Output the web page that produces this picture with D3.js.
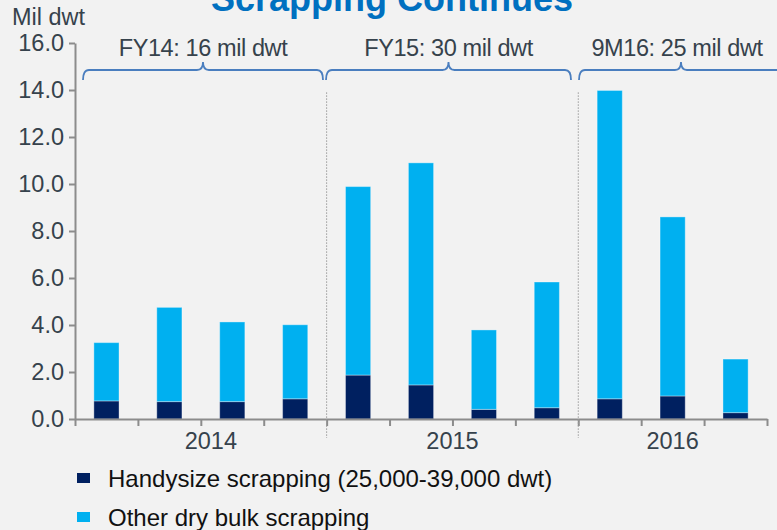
<!DOCTYPE html>
<html>
<head>
<meta charset="utf-8">
<script src="https://cdn.jsdelivr.net/npm/d3@7"></script>
<style>
  body { margin: 0; background: #f2f2f2; }
  svg { display: block; font-family: "Liberation Sans", Arial, sans-serif; }
  .axis path, .axis line { stroke: #8c8c8c; stroke-width: 2; }
  .axis text { fill: #36424c; font-size: 23.5px; font-family: "Liberation Sans", Arial, sans-serif; }
</style>
</head>
<body>
<svg id="chart" width="777" height="530"></svg>
<script>
// quarters, grouped by year
const categories = ["2014Q1","2014Q2","2014Q3","2014Q4","2015Q1","2015Q2","2015Q3","2015Q4","2016Q1","2016Q2","2016Q3"];
const years = ["2014", "2015", "2016"];
const yearOf = ["2014","2014","2014","2014","2015","2015","2015","2015","2016","2016","2016"];
const handysize = [0.77, 0.74, 0.74, 0.86, 1.87, 1.45, 0.41, 0.48, 0.86, 0.98, 0.27];
const otherDry = [2.48, 4.01, 3.39, 3.15, 8.02, 9.45, 3.38, 5.35, 13.12, 7.62, 2.28];
const yTicks = [0, 2, 4, 6, 8, 10, 12, 14, 16];
const periodLabels = ["FY14: 16 mil dwt", "FY15: 30 mil dwt", "9M16: 25 mil dwt"];
const seriesNames = ["Handysize scrapping (25,000-39,000 dwt)", "Other dry bulk scrapping"];
const colors = ["#002060", "#00b0f0"];

const svg = d3.select("#chart");
const margin = {left: 75, right: 10, top: 43, bottom: 111};
const width = 777 - margin.left - margin.right;
const height = 530 - margin.top - margin.bottom;

const x = d3.scaleBand().domain(categories).range([0, width]).paddingInner(0.6).paddingOuter(0.3);
const y = d3.scaleLinear().domain([0, 16]).range([height, 0]);

const g = svg.append("g").attr("transform", `translate(${margin.left},${margin.top})`);

// title (cut off at top, as in the slide)
svg.append("text")
  .attr("x", 392).attr("y", 11)
  .attr("text-anchor", "middle")
  .attr("fill", "#0070c0")
  .attr("font-size", 36).attr("font-weight", "bold")
  .text("Scrapping Continues");

svg.append("text")
  .attr("x", 12).attr("y", 25)
  .attr("fill", "#36424c").attr("font-size", 23.5)
  .text("Mil dwt");

// stacked bars
const stackData = categories.map((c, i) => ({cat: c, handy: handysize[i], other: otherDry[i]}));
const stack = d3.stack().keys(["handy", "other"])(stackData);

g.selectAll(".series")
  .data(stack)
  .enter().append("g")
  .attr("fill", (d, i) => colors[i])
  .selectAll("rect")
  .data(d => d)
  .enter().append("rect")
  .attr("x", d => x(d.data.cat))
  .attr("width", x.bandwidth())
  .attr("y", d => y(d[1]))
  .attr("height", d => y(d[0]) - y(d[1]))
  .attr("stroke", "#ffffff").attr("stroke-opacity", 0.35).attr("stroke-width", 1);

// y axis
g.append("g").attr("class", "axis")
  .call(d3.axisLeft(y).tickValues(yTicks).tickFormat(d3.format(".1f")).tickSize(6).tickSizeOuter(0).tickPadding(5));

// x axis with ticks at category boundaries
const xb = d3.scaleLinear().domain([0, categories.length]).range([0, width]);
g.append("g").attr("class", "axis")
  .attr("transform", `translate(0,${height})`)
  .call(d3.axisBottom(xb).tickValues(d3.range(categories.length + 1)).tickFormat("").tickSize(7).tickSizeOuter(0));

// year group info
const groups = years.map(yr => {
  const idx = yearOf.map((v, i) => v === yr ? i : -1).filter(i => i >= 0);
  return {yr, start: idx[0], end: idx[idx.length - 1] + 1};
});

g.selectAll(".year")
  .data(groups)
  .enter().append("text")
  .attr("x", d => (xb(d.start) + xb(d.end)) / 2 + (d.yr === "2014" ? 10 : 0))
  .attr("y", height + 30)
  .attr("text-anchor", "middle")
  .attr("fill", "#36424c").attr("font-size", 23.5)
  .text(d => d.yr);

// dotted dividers
g.selectAll(".divider")
  .data(groups.slice(1))
  .enter().append("line")
  .attr("x1", d => xb(d.start)).attr("x2", d => xb(d.start))
  .attr("y1", y(13.9)).attr("y2", height + 19)
  .attr("stroke", "#9a9a9a").attr("stroke-width", 1)
  .attr("stroke-dasharray", "1.5,1.5");

// braces
const braceY = 70 - margin.top;
function bracePath(x0, x1) {
  const m = (x0 + x1) / 2, r = 6;
  return `M${x0},${braceY + 10} Q${x0},${braceY} ${x0 + r},${braceY}` +
         ` L${m - r},${braceY} Q${m},${braceY} ${m},${braceY - 8}` +
         ` Q${m},${braceY} ${m + r},${braceY} L${x1 - r},${braceY}` +
         ` Q${x1},${braceY} ${x1},${braceY + 10}`;
}
const braceSpans = [[8, 248], [251, 496], [504, 708]];
g.selectAll(".brace")
  .data(braceSpans)
  .enter().append("path")
  .attr("d", d => bracePath(d[0], d[1]))
  .attr("fill", "none").attr("stroke", "#4a7ebf").attr("stroke-width", 1.8);

g.selectAll(".period")
  .data(periodLabels)
  .enter().append("text")
  .attr("x", (d, i) => (braceSpans[i][0] + braceSpans[i][1]) / 2 - (i === 2 ? 4 : 0))
  .attr("y", 56 - margin.top)
  .attr("text-anchor", "middle")
  .attr("fill", "#36424c").attr("font-size", 23.5)
  .attr("letter-spacing", -0.4)
  .text(d => d);

// legend
const legend = svg.selectAll(".legend")
  .data(seriesNames)
  .enter().append("g")
  .attr("transform", (d, i) => `translate(77,${473 + i * 39})`);
legend.append("rect").attr("width", 13).attr("height", 10).attr("fill", (d, i) => colors[i]);
legend.append("text")
  .attr("x", 31).attr("y", 14)
  .attr("fill", "#111111").attr("font-size", 24)
  .text(d => d);
</script>
</body>
</html>
